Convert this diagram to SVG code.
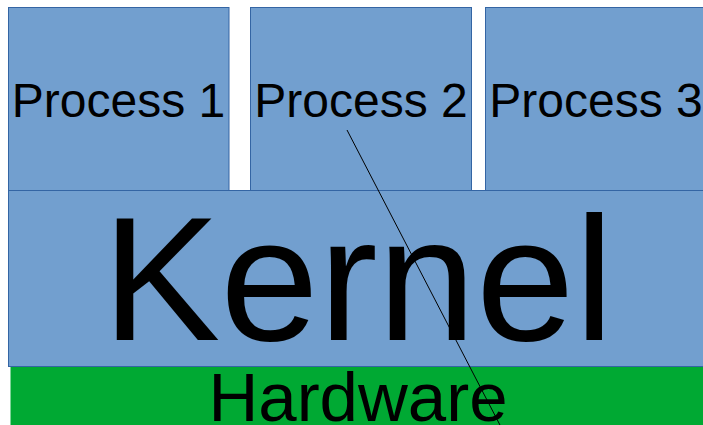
<svg xmlns="http://www.w3.org/2000/svg" width="703" height="425" viewBox="0 0 703 425">
<style>
.box{fill:#729fcf;stroke:#3465a4;stroke-width:1}
.t{font-family:"Liberation Sans",Arial,sans-serif;fill:#000;text-anchor:middle}
</style>
<rect width="703" height="425" fill="#fff"/>
<g id="hardware"><rect x="10.5" y="367" width="700" height="70" fill="#00a933"/><text class="t" x="358" y="421" font-size="69">Hardware</text></g>
<g id="kernel"><rect class="box" x="8.5" y="190.5" width="700" height="176"/><text class="t" x="358" y="340" font-size="177">Kernel</text></g>
<g id="p1"><rect class="box" x="8.5" y="7.5" width="220.5" height="183"/><text class="t" x="118.5" y="117" font-size="48">Process 1</text></g>
<g id="p2"><rect class="box" x="250.5" y="7.5" width="221" height="183"/><text class="t" x="361" y="117" font-size="48">Process 2</text></g>
<g id="p3"><rect class="box" x="485.5" y="7.5" width="230" height="183"/><text class="t" x="596" y="117" font-size="48">Process 3</text></g>
<g id="connectors"><line x1="347" y1="130" x2="501" y2="427" stroke="#000" stroke-width="1"/></g>
</svg>
